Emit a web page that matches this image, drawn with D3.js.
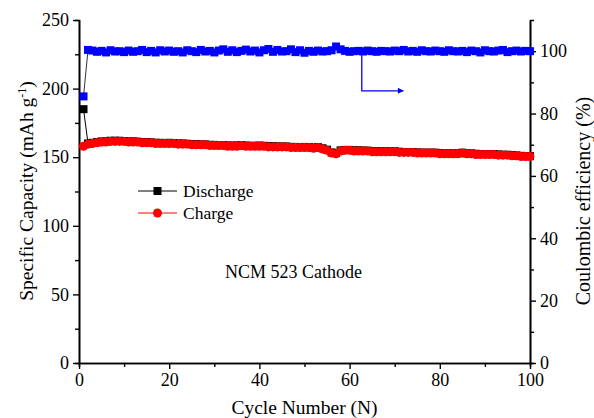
<!DOCTYPE html>
<html>
<head>
<meta charset="utf-8">
<script src="https://cdn.jsdelivr.net/npm/d3@7"></script>
<style>
  body { margin: 0; background: #fff; }
</style>
</head>
<body>
<div id="vis"></div>
<script>
var cycles = d3.range(1, 101);

var charge = [158, 159.5, 160, 160.5, 161, 161, 161.5, 161.5, 161.5, 161.5,
  161, 161, 161, 160.5, 160.5, 160.5, 160, 160, 160, 160,
  160, 159.5, 159.5, 159.5, 159, 159, 159, 159, 158.5, 158.5,
  158.5, 158.5, 158, 158, 158, 158.5, 158, 158, 158, 158,
  158, 157.5, 157.5, 157.5, 157.5, 157.5, 157, 157, 157, 157,
  157, 156.5, 157, 156, 155, 153, 152.5, 154.5, 155, 155,
  154.5, 154.5, 154.5, 154.5, 154, 154, 154, 154, 154, 154,
  153.5, 153.5, 153.5, 153.5, 153, 153, 153, 153, 153, 152.5,
  152.5, 152.5, 152.5, 152.5, 153, 152.5, 152.5, 152, 152, 152,
  152, 152, 151.5, 151.5, 151.5, 151, 151, 150.5, 150.5, 150.5];

var discharge = [185, 160, 160.5, 161, 161.5, 161.5, 162, 162, 162, 161.8,
  161.5, 161.5, 161.3, 161, 161, 160.8, 160.5, 160.5, 160.3, 160.5,
  160.3, 160, 160, 159.8, 159.5, 159.5, 159.3, 159.3, 159, 159,
  158.8, 158.8, 158.5, 158.5, 158.5, 158.8, 158.5, 158.3, 158.3, 158.5,
  158.3, 158, 158, 157.8, 157.8, 157.8, 157.5, 157.5, 157.3, 157.5,
  157.3, 157, 157.3, 156.5, 155.5, 153.5, 153, 155, 155.3, 155.3,
  155, 155, 154.8, 154.8, 154.5, 154.5, 154.3, 154.3, 154.3, 154.3,
  154, 153.8, 153.8, 153.8, 153.5, 153.3, 153.3, 153.3, 153.3, 153,
  152.8, 152.8, 152.8, 152.8, 153.3, 152.8, 152.8, 152.5, 152.3, 152.3,
  152.3, 152.3, 152, 151.8, 151.8, 151.5, 151.3, 151, 150.8, 150.8];

var efficiency = [85.5, 100.4, 100.2, 99.8, 100.1, 99.6, 100.3, 99.9, 100, 99.7,
  100.2, 99.8, 100, 100.4, 99.7, 100.1, 99.6, 100.3, 99.9, 100.2,
  99.8, 100, 99.6, 100.3, 100, 99.7, 100.4, 99.9, 100.1, 99.6,
  100.2, 100.6, 99.8, 100.3, 99.7, 100.1, 100.5, 99.9, 100.2, 99.6,
  100.3, 100.7, 99.8, 100.4, 99.9, 100, 100.6, 99.7, 100.3, 99.5,
  100.1, 99.8, 100.2, 99.9, 100, 100.3, 101.5, 100.6, 100.1, 99.8,
  100, 100.1, 99.9, 100.2, 100, 99.8, 100.1, 100, 99.9, 100.2,
  100, 100.4, 99.9, 100.1, 99.8, 100.3, 100, 99.9, 100.2, 100,
  99.8, 100.3, 100, 99.9, 100.1, 99.7, 100.2, 100, 99.6, 100.3,
  100, 99.9, 100.2, 100.4, 99.7, 100, 100.2, 99.9, 100.1, 100];

var xTicks = [0, 20, 40, 60, 80, 100];
var yTicks = [0, 50, 100, 150, 200, 250];
var y2Ticks = [0, 20, 40, 60, 80, 100];

var width = 594;
var height = 418;
var margin = { top: 20, right: 64, bottom: 55, left: 79 };
var serif = '"Liberation Serif", "Times New Roman", Times, serif';

var svg = d3.select('#vis').append('svg')
  .attr('width', width)
  .attr('height', height)
  .style('font-family', serif);

var x = d3.scaleLinear().domain([0, 100]).range([margin.left, width - margin.right]);
var y = d3.scaleLinear().domain([0, 250]).range([height - margin.bottom, margin.top]);
var y2 = d3.scaleLinear().domain([0, 110]).range([height - margin.bottom, margin.top]);

function styleAxis(g) {
  g.attr('font-family', null).attr('font-size', null);
  g.selectAll('path').attr('stroke', '#000').attr('stroke-width', 1.6);
  g.selectAll('line').attr('stroke', '#000').attr('stroke-width', 1.4);
  g.selectAll('text').style('font-family', serif).style('font-size', '18px').attr('fill', '#000');
}

// minor ticks first
svg.append('g')
  .attr('transform', 'translate(0,' + y(0) + ')')
  .call(d3.axisBottom(x).tickValues(d3.range(10, 100, 20)).tickSize(4).tickFormat(''))
  .call(styleAxis);
svg.append('g')
  .attr('transform', 'translate(' + x(0) + ',0)')
  .call(d3.axisLeft(y).tickValues(d3.range(25, 250, 50)).tickSize(4).tickFormat(''))
  .call(styleAxis);
svg.append('g')
  .attr('transform', 'translate(' + x(100) + ',0)')
  .call(d3.axisRight(y2).tickValues(d3.range(10, 110, 20)).tickSize(4).tickFormat(''))
  .call(styleAxis);

svg.append('g')
  .attr('transform', 'translate(0,' + y(0) + ')')
  .call(d3.axisBottom(x).tickValues(xTicks).tickSize(6).tickSizeOuter(0).tickPadding(4))
  .call(styleAxis);
svg.append('g')
  .attr('transform', 'translate(' + x(0) + ',0)')
  .call(d3.axisLeft(y).tickValues(yTicks).tickSize(6).tickSizeOuter(0).tickPadding(4))
  .call(styleAxis);
svg.append('g')
  .attr('transform', 'translate(' + x(100) + ',0)')
  .call(d3.axisRight(y2).tickValues(y2Ticks).tickSize(6).tickSizeOuter(0).tickPadding(4))
  .call(styleAxis);

// series
var disLine = d3.line().x(function (d, i) { return x(cycles[i]); }).y(function (d) { return y(d); });
var ceLine = d3.line().x(function (d, i) { return x(cycles[i]); }).y(function (d) { return y2(d); });

svg.append('path').datum(discharge)
  .attr('d', disLine).attr('fill', 'none').attr('stroke', '#000').attr('stroke-width', 1);
svg.selectAll('.dis').data(discharge).enter().append('rect')
  .attr('class', 'dis')
  .attr('x', function (d, i) { return x(cycles[i]) - 4; })
  .attr('y', function (d) { return y(d) - 4; })
  .attr('width', 8).attr('height', 8)
  .attr('fill', '#000');

svg.append('path').datum(charge)
  .attr('d', disLine).attr('fill', 'none').attr('stroke', '#ff0000').attr('stroke-width', 1);
svg.selectAll('.chg').data(charge).enter().append('circle')
  .attr('class', 'chg')
  .attr('cx', function (d, i) { return x(cycles[i]); })
  .attr('cy', function (d) { return y(d); })
  .attr('r', 4.5)
  .attr('fill', '#ff0000');

svg.append('path').datum(efficiency)
  .attr('d', ceLine).attr('fill', 'none').attr('stroke', '#000').attr('stroke-width', 0.8);
svg.selectAll('.ce').data(efficiency).enter().append('rect')
  .attr('class', 'ce')
  .attr('x', function (d, i) { return x(cycles[i]) - 4; })
  .attr('y', function (d) { return y2(d) - 4; })
  .attr('width', 8).attr('height', 8)
  .attr('fill', '#0000ff');

// arrow pointing to right axis
svg.append('defs').append('marker')
  .attr('id', 'arrow')
  .attr('viewBox', '0 0 10 10')
  .attr('refX', 9).attr('refY', 5)
  .attr('markerWidth', 10).attr('markerHeight', 6)
  .attr('markerUnits', 'userSpaceOnUse')
  .attr('orient', 'auto')
  .append('path').attr('d', 'M0,0L10,5L0,10Z').attr('fill', '#0000ff');

svg.append('path')
  .attr('d', 'M' + x(62.7) + ',' + y2(99) + 'V' + y2(87.3) + 'H' + x(71.9))
  .attr('fill', 'none')
  .attr('stroke', '#0000ff')
  .attr('stroke-width', 1.3)
  .attr('marker-end', 'url(#arrow)');

// legend
var legend = svg.append('g').attr('transform', 'translate(138,191)');
legend.append('line').attr('x1', 0).attr('x2', 39).attr('y1', 0).attr('y2', 0).attr('stroke', '#000');
legend.append('rect').attr('x', 15.5).attr('y', -4).attr('width', 8).attr('height', 8).attr('fill', '#000');
legend.append('text').attr('x', 45).attr('y', 6).style('font-size', '17.5px').text('Discharge');
legend.append('line').attr('x1', 0).attr('x2', 39).attr('y1', 22).attr('y2', 22).attr('stroke', '#ff0000');
legend.append('circle').attr('cx', 19.5).attr('cy', 22).attr('r', 4.5).attr('fill', '#ff0000');
legend.append('text').attr('x', 45).attr('y', 28).style('font-size', '17.5px').text('Charge');

svg.append('text')
  .attr('x', 225).attr('y', 278)
  .style('font-size', '18px')
  .text('NCM 523 Cathode');

// axis titles
svg.append('text')
  .attr('x', (x(0) + x(100)) / 2).attr('y', 414)
  .attr('text-anchor', 'middle')
  .style('font-size', '19.5px')
  .text('Cycle Number (N)');

var yt = svg.append('text')
  .attr('transform', 'translate(33,191) rotate(-90)')
  .attr('text-anchor', 'middle')
  .style('font-size', '19.5px');
yt.append('tspan').text('Specific Capacity (mAh g');
yt.append('tspan').attr('dy', -7).style('font-size', '12px').text('-1');
yt.append('tspan').attr('dy', 7).text(')');

svg.append('text')
  .attr('transform', 'translate(590,201) rotate(-90)')
  .attr('text-anchor', 'middle')
  .style('font-size', '20px')
  .text('Coulombic efficiency (%)');
</script>
</body>
</html>
